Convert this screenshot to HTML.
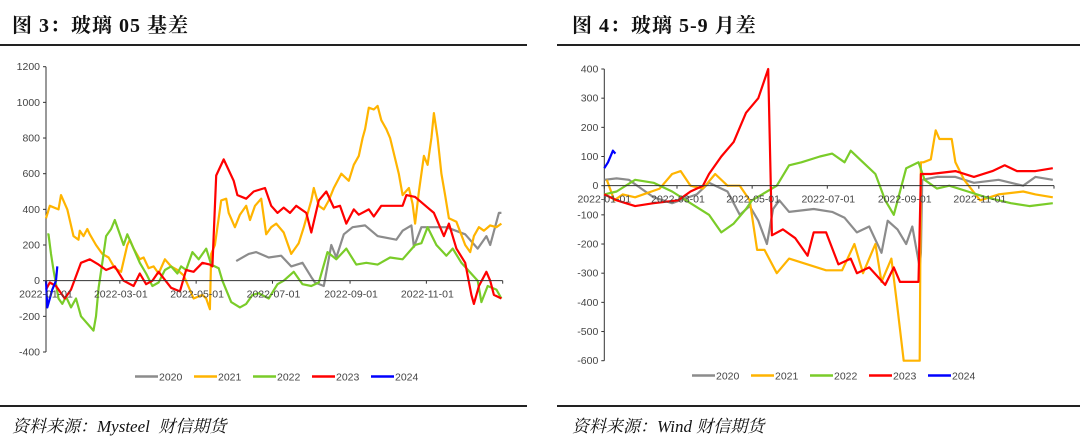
<!DOCTYPE html>
<html><head><meta charset="utf-8">
<style>
html,body{margin:0;padding:0;background:#fff;}
body{width:1080px;height:438px;overflow:hidden;position:relative;font-family:"Liberation Serif","Noto Serif CJK SC",serif;}
.title{position:absolute;top:9px;font-size:20px;font-weight:bold;color:#111;letter-spacing:1px;}
.src{position:absolute;top:412px;font-size:17px;font-style:italic;color:#111;}
.rule{position:absolute;height:2px;background:#222;}
svg{position:absolute;left:0;top:0;}
</style></head><body>
<div class="title" style="left:12px">图 3：玻璃 05 基差</div>
<div class="title" style="left:572px">图 4：玻璃 5-9 月差</div>
<div class="rule" style="left:0;width:527px;top:44px"></div>
<div class="rule" style="left:557px;width:523px;top:44px"></div>
<div class="rule" style="left:0;width:527px;top:405px"></div>
<div class="rule" style="left:557px;width:523px;top:405px"></div>
<div class="src" style="left:12px">资料来源：Mysteel&nbsp; 财信期货</div>
<div class="src" style="left:572px">资料来源：Wind 财信期货</div>
<svg id="chart" width="1080" height="438" xmlns="http://www.w3.org/2000/svg"></svg>
<script>
const seriesNames = ["2020","2021","2022","2023","2024"];
const seriesColors = ["#8c8c8c","#ffb400","#7acc29","#ff0000","#0000ff"];
const xTickLabels = ["2022-01-01","2022-03-01","2022-05-01","2022-07-01","2022-09-01","2022-11-01"];
const xTickDays = [0,59,120,181,243,304];

// Left chart: 玻璃05基差
const leftYTicks = [-400,-200,0,200,400,600,800,1000,1200];
const left2020Days = [152,162,168,178,188,196,205,212,215,222,228,232,238,245,255,265,280,285,292,294,300,320,335,345,352,355,362,364];
const left2020Vals = [110,150,160,130,140,80,100,20,-10,-30,200,130,260,300,310,250,230,280,310,190,300,300,260,180,250,200,380,380];
const left2021Days = [0,3,10,12,17,22,26,27,30,33,35,40,45,50,55,60,65,67,70,75,78,82,86,90,95,100,105,110,118,125,128,131,132,135,140,144,146,151,155,160,163,167,172,176,180,184,190,196,202,206,212,214,218,222,226,230,236,242,246,250,253,255,258,262,265,268,272,275,282,285,290,293,295,298,302,305,308,310,313,316,319,322,328,335,339,342,346,350,355,360,364];
const left2021Vals = [350,420,400,480,400,250,230,280,250,290,260,200,150,130,70,50,200,230,180,120,130,70,80,40,120,80,60,30,-100,-80,-100,-160,150,200,450,460,380,300,370,420,340,420,460,260,300,320,270,150,210,300,450,520,420,400,450,520,600,560,650,700,800,850,970,960,980,900,850,800,600,480,520,430,320,500,700,650,800,940,800,600,480,350,330,200,160,250,300,280,310,300,320];
const left2022Days = [1,2,4,6,8,10,13,16,20,24,28,38,40,42,45,48,52,55,58,62,65,70,75,80,85,90,95,100,105,108,112,117,122,128,132,138,141,148,155,160,165,170,178,185,190,198,205,212,218,225,232,240,248,256,265,275,285,295,300,305,312,320,325,332,345,348,353,360,364];
const left2022Vals = [260,260,150,60,-20,-100,-130,-90,-150,-100,-200,-280,-200,-40,100,250,290,340,280,200,260,180,100,40,-30,-10,60,80,40,80,60,160,120,180,90,70,0,-120,-150,-130,-80,-70,-100,-20,0,50,-20,-30,-10,160,120,180,90,100,90,130,120,200,210,300,200,140,180,100,0,-120,-30,-50,-100];
const left2023Days = [0,3,8,15,20,28,35,42,48,55,62,70,75,80,85,90,100,107,112,118,125,131,133,136,142,150,153,160,166,175,180,185,190,195,200,208,212,218,224,230,235,240,246,250,258,262,268,285,288,295,305,310,318,322,328,335,340,342,346,352,355,358,364];
const left2023Vals = [-50,-10,-30,-100,-50,100,120,90,60,80,0,-30,40,-20,0,50,-40,-60,60,50,100,90,80,590,680,560,480,460,500,520,420,380,410,380,420,380,270,450,500,410,420,320,400,370,400,360,420,420,480,470,410,380,250,320,180,100,-80,-130,-30,50,0,-80,-100];
const left2024Days = [0,1,5,8,9];
const left2024Vals = [0,-150,-50,0,80];

// Right chart: 玻璃5-9月差
const rightYTicks = [-600,-500,-400,-300,-200,-100,0,100,200,300,400];
const right2020Days = [0,10,20,30,40,55,75,85,100,110,118,125,132,137,142,150,170,185,195,205,215,225,230,238,245,250,256,257,258,270,285,300,320,340,350,364];
const right2020Vals = [20,25,20,-10,-40,-60,-30,10,-20,-100,-70,-120,-200,-80,-50,-90,-80,-90,-110,-160,-140,-230,-120,-150,-200,-140,-280,-230,20,30,30,10,20,0,30,20];
const right2021Days = [2,8,15,25,45,55,62,70,80,90,100,110,118,124,130,140,150,165,180,193,203,210,220,225,233,238,243,256,257,259,265,269,272,282,285,292,305,320,340,350,364];
const right2021Vals = [20,-50,-30,-40,-10,40,50,0,-10,40,0,0,-50,-220,-220,-300,-250,-270,-290,-290,-200,-300,-200,-330,-250,-420,-600,-600,80,80,90,190,160,160,80,20,-50,-30,-20,-30,-40];
const right2022Days = [0,10,25,40,55,70,85,95,105,115,120,140,150,160,175,185,195,200,210,220,228,235,245,255,260,270,280,295,310,330,345,364];
const right2022Vals = [-30,-20,20,10,-20,-60,-100,-160,-130,-80,-50,0,70,80,100,110,80,120,80,40,-50,-100,60,80,20,-10,0,-20,-40,-60,-70,-60];
const right2023Days = [0,10,25,40,60,70,80,85,95,105,115,125,133,136,145,155,165,170,180,190,200,205,215,228,235,240,255,257,265,285,300,315,325,335,350,364];
const right2023Vals = [-30,-50,-70,-60,-50,-20,0,40,100,150,250,300,400,-170,-150,-180,-240,-160,-160,-270,-250,-300,-280,-340,-280,-330,-330,40,40,50,30,50,70,50,50,60];
const right2024Days = [0,3,7,9];
const right2024Vals = [60,80,120,110];

const svg = document.getElementById('chart');
const NS = "http://www.w3.org/2000/svg";
function mk(tag, attrs, parent){
  const e = document.createElementNS(NS, tag);
  for (const k in attrs) e.setAttribute(k, attrs[k]);
  (parent||svg).appendChild(e);
  return e;
}

function drawChart(cfg){
  const g = mk('g', {});
  
  
  const xs = d => cfg.x0 + d/365*(cfg.x1 - cfg.x0);
  const ys = v => cfg.yTop + (cfg.yMax - v)/(cfg.yMax - cfg.yMin)*(cfg.yBot - cfg.yTop);
  // y axis
  const ya = mk('line', {x1:cfg.x0, x2:cfg.x0, y1:cfg.yTop, y2:cfg.yBot, stroke:'#333', 'stroke-width':1}, g);
  
  
  cfg.yTicks.forEach(t => {
    mk('line', {x1:cfg.x0-3, x2:cfg.x0, y1:ys(t), y2:ys(t), stroke:'#333'}, g);
    const tx = mk('text', {x:cfg.x0-6, y:ys(t)+3.5, 'text-anchor':'end', 'font-size':10.5, fill:'#444', 'font-family':'Liberation Sans, sans-serif'}, g);
    tx.textContent = t;
    
    
  });
  // series
  cfg.series.forEach((s, i) => {
    let d = '';
    s.days.forEach((day, j) => { d += (j ? 'L' : 'M') + xs(day).toFixed(1) + ',' + ys(Math.max(cfg.yMin, s.vals[j])).toFixed(1); });
    const p = mk('path', {d:d, fill:'none', stroke:seriesColors[i], 'stroke-width':2.2, 'stroke-linejoin':'round'}, g);
    
    
  });
  // x axis at zero
  const xa = mk('line', {x1:cfg.x0, x2:cfg.x1, y1:ys(0), y2:ys(0), stroke:'#333', 'stroke-width':1}, g);
  
  
  xTickDays.forEach((day, i) => {
    mk('line', {x1:xs(day), x2:xs(day), y1:ys(0), y2:ys(0)+3, stroke:'#333'}, g);
    const tx = mk('text', {x:xs(day)+(i===0?0:1), y:ys(0)+17, 'text-anchor':'middle', 'font-size':10.5, fill:'#444', 'font-family':'Liberation Sans, sans-serif'}, g);
    tx.textContent = xTickLabels[i];
    
    
  });
  mk('line', {x1:cfg.x1, x2:cfg.x1, y1:ys(0), y2:ys(0)+3, stroke:'#333'}, g);
  // legend
  seriesNames.forEach((n, i) => {
    const lx = cfg.legX + i*59;
    const le = mk('g', {}, g);
    
    
    mk('line', {x1:lx, x2:lx+23, y1:cfg.legY, y2:cfg.legY, stroke:seriesColors[i], 'stroke-width':2.5}, le);
    const t = mk('text', {x:lx+24, y:cfg.legY+4, 'font-size':10.5, fill:'#444', 'font-family':'Liberation Sans, sans-serif'}, le);
    t.textContent = n;
  });
}

drawChart({name:'left-basis-chart', x0:46, x1:502.7, yTop:66.7, yBot:352, yMax:1200, yMin:-400, yTicks:leftYTicks, legX:135, legY:376.5,
  series:[{days:left2020Days,vals:left2020Vals},{days:left2021Days,vals:left2021Vals},{days:left2022Days,vals:left2022Vals},{days:left2023Days,vals:left2023Vals},{days:left2024Days,vals:left2024Vals}]});
drawChart({name:'right-spread-chart', x0:604.3, x1:1054, yTop:69, yBot:360.7, yMax:400, yMin:-600, yTicks:rightYTicks, legX:692, legY:375.5,
  series:[{days:right2020Days,vals:right2020Vals},{days:right2021Days,vals:right2021Vals},{days:right2022Days,vals:right2022Vals},{days:right2023Days,vals:right2023Vals},{days:right2024Days,vals:right2024Vals}]});
</script>
</body></html>
